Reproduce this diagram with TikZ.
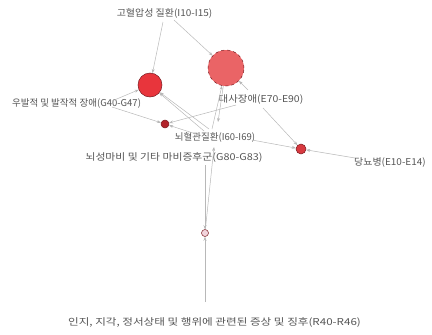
\documentclass[tikz,border=0pt]{standalone}
\usepackage{fontspec}
\newfontfamily\kr{Noto Sans CJK KR}
\usetikzlibrary{arrows.meta}
\definecolor{txt}{HTML}{555555}
\definecolor{edge}{HTML}{B8B8B8}
\definecolor{redA}{HTML}{E8353C}
\definecolor{redB}{HTML}{EA6466}
\definecolor{redC}{HTML}{B2232B}
\definecolor{redD}{HTML}{D83A40}
\definecolor{pinkE}{HTML}{F2D4DC}
\definecolor{bord}{HTML}{7A1A20}
\tikzset{
  lbl/.style={font=\kr\fontsize{9.5}{10}\selectfont, text=txt, inner sep=0pt},
  vtx/.style={circle, draw=bord, line width=0.5pt, inner sep=0pt},
  lnk/.style={draw=edge, line width=0.5pt, -{Stealth[length=4pt,width=3pt]}}
}
\begin{document}
\begin{tikzpicture}[x=1pt,y=-1pt]
\useasboundingbox (0,0) rectangle (432,335);
% vertices
\node[vtx, fill=redA, minimum size=24pt] (c1) at (150,85) {};
\node[vtx, fill=redB, dashed, minimum size=36pt] (c2) at (226,68) {};
\node[vtx, fill=redC, minimum size=8pt] (c3) at (165,124) {};
\node[vtx, fill=redD, minimum size=10pt] (c4) at (301,149) {};
\node[vtx, fill=pinkE, minimum size=7pt] (c5) at (205,233) {};
% labels
\node[lbl] (l1) at (164.5,13) {\scalebox{1.05}[1]{고혈압성 질환(I10-I15)}};
\node[lbl] (l2) at (76.5,103) {우발적 및 발작적 장애(G40-G47)};
\node[lbl] (l3) at (261,99) {\scalebox{1.1}[1]{대사장애(E70-E90)}};
\node[lbl] (l4) at (215,137) {뇌혈관질환(I60-I69)};
\node[lbl] (l5) at (174,157) {\scalebox{1.14}[1]{뇌성마비 및 기타 마비증후군(G80-G83)}};
\node[lbl] (l6) at (390,163) {\scalebox{1.05}[1]{당뇨병(E10-E14)}};
\node[lbl] (l7) at (214.5,322) {\scalebox{1.22}[1]{인지, 지각, 정서상태 및 행위에 관련된 증상 및 징후(R40-R46)}};
% edge end points
\coordinate (p1a) at (163,22);
\coordinate (p1b) at (174,20);
\coordinate (p2a) at (112,101);
\coordinate (p2b) at (112,107);
\coordinate (p4a) at (204,131);
\coordinate (p4b) at (209,129);
\coordinate (p4c) at (212,129);
\coordinate (p4d) at (218,122);
\coordinate (p4e) at (196,134);
\coordinate (p4f) at (252,140);
\coordinate (p4g) at (214,147);
\coordinate (p3a) at (248,90);
\coordinate (p3b) at (236,105);
\coordinate (p3c) at (263,108);
\coordinate (p5a) at (205,165);
\coordinate (p6a) at (355,158);
\coordinate (p7a) at (205,302);
% edges
\draw[lnk] (p1a) -- (c1);
\draw[lnk] (p1b) -- (c2);
\draw[lnk] (p2a) -- (c1);
\draw[lnk] (p2b) -- (c3);
\draw[lnk] (p4a) -- (c1);
\draw[lnk] (p4b) -- (c1);
\draw[lnk] (p4c) -- (c2);
\draw[lnk] (c2) -- (p4d);
\draw[lnk] (p4e) -- (c3);
\draw[lnk] (p4f) -- (c4);
\draw[lnk] (c5) -- (p4g);
\draw[lnk] (p3a) -- (c2);
\draw[lnk] (p3b) -- (c3);
\draw[lnk] (p3c) -- (c4);
\draw[lnk] (p5a) -- (c5);
\draw[lnk] (p6a) -- (c4);
\draw[lnk] (p7a) -- (c5);
\end{tikzpicture}
\end{document}
